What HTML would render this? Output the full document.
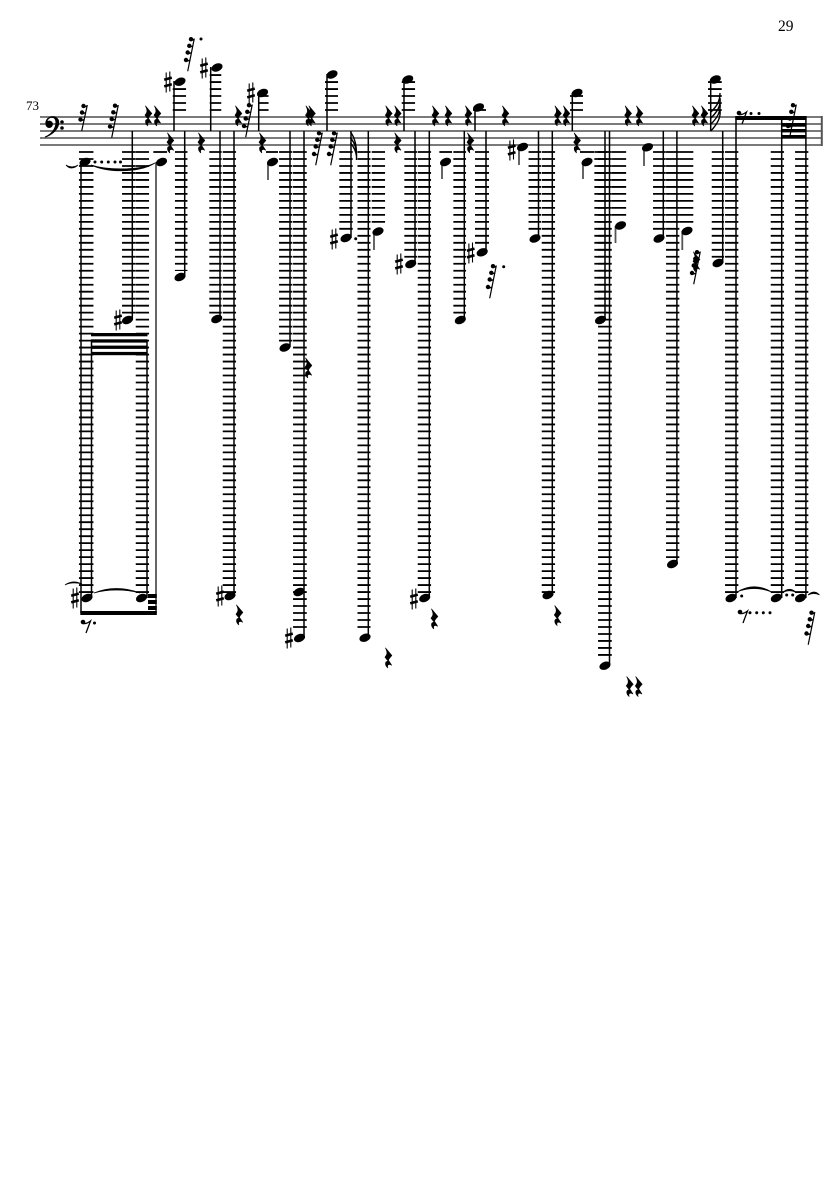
<!DOCTYPE html>
<html><head><meta charset="utf-8"><style>
html,body{margin:0;padding:0;background:#fff}
svg{display:block}
.L{fill:none;stroke:#000;stroke-dasharray:1.8 5.185}
</style></head><body>
<svg xmlns="http://www.w3.org/2000/svg" width="835" height="1181" viewBox="0 0 835 1181">
<defs>
<path id="q" stroke="#000" stroke-width=".7" stroke-linejoin="round" d="M-2.5-10L3.8-2.5C2.2-.8 .8.8 .4 2.2L3.6 7.2C1 5.8-1.3 6.2-.2 9.8C-3 7.5-3.6 3.4 .2 3.2L-3-.8C-1-3 0-5-2.5-10Z"/>
<ellipse id="n" rx="5.8" ry="3.9" transform="rotate(-22)"/>
<g id="s" fill="none" stroke="#000"><path d="M-1.8-9.5V10.5M1.8-10.5V9.5" stroke-width="1.1"/><path d="M-3.8-2.2L3.8-4.4M-3.8 4.4L3.8 2.2" stroke-width="2.6"/></g>
<g id="h"><path d="M-3.3 16.2L3.3-16.5" stroke="#000" stroke-width="1.2" fill="none"/><circle cx="-5" cy="5" r="2.2"/><circle cx="-3.3" cy="-2.5" r="2.2"/><circle cx="-1.7" cy="-9.2" r="2.2"/><circle cx="0" cy="-15.8" r="2.2"/><path d="M-4.5 6.2L-.8 5.2M-2.8-1.2L.6-2.4M-1.2-8L2-9M.4-14.5L3.2-15.6" stroke="#000" stroke-width="1.4" fill="none"/></g>
<g id="h3"><path d="M-2.8 13L2.8-13" stroke="#000" stroke-width="1.2" fill="none"/><circle cx="-4" cy="1.5" r="2.2"/><circle cx="-2.5" cy="-5.5" r="2.2"/><circle cx="-1" cy="-12" r="2.2"/><path d="M-3.5 2.7L0 1.5M-2-4.2L1-5.4M-.6-10.8L2.4-12" stroke="#000" stroke-width="1.4" fill="none"/></g>
<g id="e"><circle cx="-4" cy="-4" r="2.3"/><path d="M-4-2.5C-1-2 1-3 3.5-5L-1 7" stroke="#000" stroke-width="1.3" fill="none"/></g>
</defs>

<!-- staff -->
<path d="M40 117H822M40 124H822M40 131H822M40 138H822M40 145H822" stroke="#7a7a7a" stroke-width="1.9" fill="none"/>
<path d="M821.8 116V146" stroke="#555" stroke-width="2"/>

<!-- clef -->
<circle cx="49.2" cy="124.3" r="3.7"/>
<path d="M45 137.8C52.5 135 59 129.5 59.2 122.8C59.4 118.5 56.3 116.2 52.6 116.2C48.2 116.2 45.3 119.5 45.3 123.5L47 123.5C47 120.5 49 117.8 51.8 117.8C54.8 117.8 55.6 120.5 55.5 123C55.2 129 50.5 134.5 44.8 136.6Z"/>
<circle cx="62" cy="122" r="1.8"/><circle cx="62" cy="128" r="1.8"/>

<text x="26" y="110" font-family="'Liberation Serif',serif" font-size="13">73</text>
<text x="778" y="31" font-family="'Liberation Serif',serif" font-size="15.5">29</text>

<!-- ledgers below staff -->
<g class="L">
<path stroke-width="14.5" d="M86.2 151.1V593"/>
<path stroke-width="13.5" d="M128.8 151.1V314"/>
<path stroke-width="13.3" d="M142.4 151.1V593"/>
<path stroke-width="13.7" d="M160.2 151.1V153"/>
<path stroke-width="12.5" d="M181.2 151.1V271"/>
<path stroke-width="12.4" d="M215.5 151.1V314"/>
<path stroke-width="13.3" d="M229.4 151.1V593"/>
<path stroke-width="12" d="M272 151.1V153"/>
<path stroke-width="13.3" d="M285.7 151.1V342"/>
<path stroke-width="13.7" d="M299.9 151.1V632"/>
<path stroke-width="13.4" d="M346 151.1V232"/>
<path stroke-width="13" d="M364 151.1V632"/>
<path stroke-width="13.3" d="M378.4 151.1V225"/>
<path stroke-width="12.7" d="M410.7 151.1V258"/>
<path stroke-width="13.3" d="M424.4 151.1V593"/>
<path stroke-width="12.7" d="M445.7 151.1V153"/>
<path stroke-width="12.7" d="M459.7 151.1V314"/>
<path stroke-width="14" d="M482 151.1V246"/>
<path stroke-width="12.5" d="M534.8 151.1V232"/>
<path stroke-width="13.3" d="M548.4 151.1V593"/>
<path stroke-width="14" d="M587 151.1V153"/>
<path stroke-width="12.7" d="M600.7 151.1V314"/>
<path stroke-width="13.7" d="M604.9 151.1V660"/>
<path stroke-width="14.3" d="M619 151.1V220"/>
<path stroke-width="12.7" d="M659.4 151.1V232"/>
<path stroke-width="13.3" d="M672.7 151.1V558"/>
<path stroke-width="14" d="M686.3 151.1V225"/>
<path stroke-width="12.3" d="M717.9 151.1V258"/>
<path stroke-width="13.3" d="M731.7 151.1V593"/>
<path stroke-width="13.3" d="M777.4 151.1V593"/>
<path stroke-width="13.3" d="M801.7 151.1V593"/>
<!-- above staff -->
<path stroke-width="13.3" d="M179.4 110.9V88"/>
<path stroke-width="11.5" d="M215.5 110.9V74"/>
<path stroke-width="10.5" d="M263.3 110.9V95"/>
<path stroke-width="13" d="M331.5 110.9V81"/>
<path stroke-width="13.3" d="M408.4 110.9V81"/>
<path stroke-width="13" d="M479.5 110.9V109"/>
<path stroke-width="13" d="M576.5 110.9V95"/>
<path stroke-width="13.7" d="M714.9 110.9V81"/>
</g>

<!-- stems -->
<path fill="none" stroke="#000" stroke-width="1.5" d="M81 162V613M91.5 340V598M147 340V598M132.3 131V320M184.7 131V277M174 81V131M210.7 67V131M220 131V319M234 131V596M258.7 93V131M290 131V347M304 131V638M327 74V131M351 131V238M368.3 131V637M404 80V131M415 131V264M429.3 131V598M464.3 131V320M486 131V252M475 107V131M538.5 131V238M552.3 131V595M572.3 93V131M605 131V320M609.5 131V665M663.3 131V238M676.9 131V564M710.7 80V131M722.7 131V263M736 117V598M781.7 117V598M805.9 117V598"/>
<path fill="none" stroke="#555" stroke-width="1.8" d="M156 162V613M268 162V180M374 231V250M442 162V179M519 150V165M583 162V179M615.5 226V243M644 147V166M682.3 231V250"/>

<!-- noteheads -->
<g>
<use href="#n" x="85" y="162"/><use href="#n" x="87" y="598"/><use href="#n" x="141.5" y="598"/><use href="#n" x="127.5" y="320"/><use href="#n" x="161.5" y="162"/>
<use href="#n" x="180" y="81.7"/><use href="#n" x="180" y="277"/><use href="#n" x="217" y="67.5"/><use href="#n" x="216.7" y="319"/><use href="#n" x="230" y="596"/>
<use href="#n" x="262.5" y="93"/><use href="#n" x="272.5" y="162"/><use href="#n" x="285" y="347.5"/><use href="#n" x="299" y="592"/><use href="#n" x="299.5" y="638"/>
<use href="#n" x="332" y="74.5"/><use href="#n" x="346" y="238"/><use href="#n" x="378" y="231.5"/><use href="#n" x="365" y="637.7"/><use href="#n" x="407.7" y="79.5"/>
<use href="#n" x="410.7" y="264"/><use href="#n" x="424.7" y="598"/><use href="#n" x="478.5" y="107.5"/><use href="#n" x="445.5" y="162"/><use href="#n" x="460.3" y="320"/>
<use href="#n" x="482.2" y="252.3"/><use href="#n" x="522.5" y="147"/><use href="#n" x="535" y="238.5"/><use href="#n" x="548" y="595"/><use href="#n" x="577" y="93"/>
<use href="#n" x="587" y="162"/><use href="#n" x="600.5" y="320"/><use href="#n" x="605" y="665.7"/><use href="#n" x="620.5" y="225.5"/><use href="#n" x="647.5" y="147.3"/>
<use href="#n" x="659" y="238.5"/><use href="#n" x="672.5" y="564"/><use href="#n" x="687" y="231"/><use href="#n" x="715.3" y="79.5"/><use href="#n" x="718" y="263"/>
<use href="#n" x="731" y="598"/><use href="#n" x="776.3" y="598"/><use href="#n" x="800.5" y="598"/>
</g>

<!-- sharps -->
<g>
<use href="#s" x="75" y="598"/><use href="#s" x="118" y="320"/><use href="#s" x="168" y="82"/><use href="#s" x="204" y="68"/><use href="#s" x="220" y="596"/>
<use href="#s" x="251" y="93"/><use href="#s" x="289" y="638"/><use href="#s" x="334" y="239"/><use href="#s" x="399" y="264"/><use href="#s" x="414" y="599"/>
<use href="#s" x="470.7" y="253"/><use href="#s" x="511.7" y="150"/>
</g>

<!-- quarter rests -->
<g>
<use href="#q" x="148" y="116"/><use href="#q" x="157" y="116"/><use href="#q" x="170" y="143"/><use href="#q" x="201" y="143"/><use href="#q" x="238" y="116"/><use href="#q" x="262" y="143"/>
<use href="#q" x="308.5" y="116"/><use href="#q" x="311.5" y="116"/><use href="#q" x="388.3" y="116"/><use href="#q" x="397.3" y="116"/><use href="#q" x="397.3" y="143"/>
<use href="#q" x="435" y="116"/><use href="#q" x="448" y="116"/><use href="#q" x="468" y="116"/><use href="#q" x="470" y="143"/><use href="#q" x="505" y="116"/>
<use href="#q" x="557.5" y="116"/><use href="#q" x="566" y="116"/><use href="#q" x="576.7" y="143"/><use href="#q" x="627.7" y="116"/><use href="#q" x="639" y="116"/>
<use href="#q" x="695" y="116"/><use href="#q" x="704" y="116"/>
<use href="#q" x="239" y="615"/><use href="#q" x="308" y="368"/><use href="#q" x="388" y="658"/><use href="#q" x="434" y="619"/><use href="#q" x="557.3" y="615.7"/>
<use href="#q" x="629.3" y="686.7"/><use href="#q" x="638.3" y="686.7"/><use href="#q" x="696" y="262"/>
</g>

<!-- small slanted rests -->
<g>
<use href="#h3" x="84.5" y="118"/><use href="#h" x="115" y="121.5"/><use href="#h" x="249" y="121"/><use href="#h" x="191" y="55"/>
<use href="#h" x="319" y="149"/><use href="#h" x="334" y="149"/><use href="#h" x="493" y="282"/><use href="#h" x="793" y="121"/>
<use href="#h" x="811.5" y="628.5"/><use href="#h" x="697" y="268"/>
<use href="#e" x="87" y="626"/><use href="#e" x="743" y="117"/><use href="#e" x="744" y="616"/>
</g>
<g>
<circle cx="201" cy="39" r="1.5"/><circle cx="503.7" cy="266.7" r="1.5"/><circle cx="94.5" cy="623" r="1.5"/>
<circle cx="95" cy="162" r="1.5"/><circle cx="101.7" cy="162" r="1.5"/><circle cx="108.3" cy="162" r="1.5"/><circle cx="115" cy="162" r="1.5"/><circle cx="120.5" cy="162" r="1.5"/>
<circle cx="355.7" cy="238.7" r="1.5"/><circle cx="741.7" cy="596" r="1.5"/><circle cx="786.7" cy="595" r="1.5"/><circle cx="792.7" cy="595" r="1.5"/>
<circle cx="751" cy="113.5" r="1.5"/><circle cx="759" cy="113.5" r="1.5"/>
<circle cx="750" cy="612.7" r="1.5"/><circle cx="756.7" cy="612.7" r="1.5"/><circle cx="763.3" cy="612.7" r="1.5"/><circle cx="770" cy="612.7" r="1.5"/>
</g>

<!-- beams -->
<g>
<rect x="91" y="333" width="56.5" height="3.3"/><rect x="91" y="339.3" width="56.5" height="3.3"/><rect x="91" y="345.6" width="56.5" height="3.3"/><rect x="91" y="351.9" width="56.5" height="3.3"/>
<rect x="80.3" y="611" width="76.5" height="4"/>
<rect x="148" y="594" width="8.7" height="4"/><rect x="148" y="600" width="8.7" height="4"/><rect x="148" y="606" width="8.7" height="4"/>
<rect x="735.3" y="116" width="71.3" height="4"/>
<rect x="781" y="123" width="25.5" height="3.7"/><rect x="781" y="129" width="25.5" height="3.4"/><rect x="781" y="135" width="25.5" height="3.4"/>
</g>

<!-- flags -->
<path fill="none" stroke="#000" stroke-width="1.4" d="M350.5 132C355 138 357 146 356.5 160M350.5 138C355 143 357 150 356.5 158M350.5 143C354 147 356 152 356.5 156"/>
<path fill="none" stroke="#000" stroke-width="1.4" d="M711 131C717 124 721 118 720 110M711 124C717 118 721 112 720 103M711 118C717 112 721 106 720 98M711 112C716 107 720 102 720 93"/>

<!-- ties -->
<g fill="#000" stroke="#000" stroke-width=".7">
<path d="M66 165C69 169 74 169 78 165C74 167.5 70 167.5 66 165Z"/>
<path d="M91 165C108 173 140 173 155 163C140 170.5 108 170.5 91 165Z"/>
<path d="M65 585C70 581 76 581 82 584C76 582.5 70 582.5 65 585Z"/>
<path d="M94 593C108 587 125 587 140 593C125 589 108 589 94 593Z"/>
<path d="M737 592C748 585 760 585 772 592C760 587.5 748 587.5 737 592Z"/>
<path d="M782 593C787 588 792 588 797 593C792 590 787 590 782 593Z"/>
<path d="M808 595C812 591 816 591 819.5 595C816 593 812 593 808 595Z"/>
</g>
</svg>
</body></html>
